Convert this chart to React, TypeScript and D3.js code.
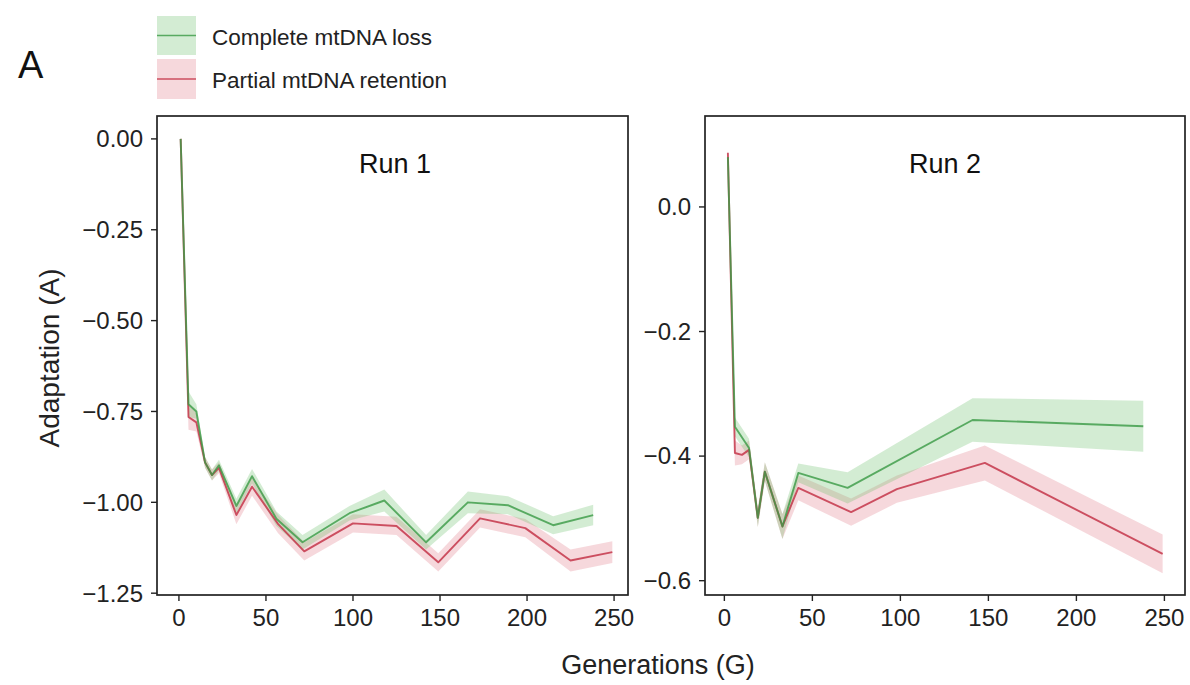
import React from "react";
import * as d3 from "d3";

// ---- Data ----
const xTicks = [0, 50, 100, 150, 200, 250];
const run1YTicks = [0, -0.25, -0.5, -0.75, -1.0, -1.25];
const run2YTicks = [0, -0.2, -0.4, -0.6];

// Run 1 — Complete mtDNA loss
const run1LossGen = [1, 5.5, 10, 15, 19, 23, 33, 42, 56, 71, 98, 118, 142, 166, 189, 215, 238];
const run1LossA = [0, -0.73, -0.75, -0.89, -0.925, -0.898, -1.01, -0.928, -1.045, -1.11, -1.03, -0.995, -1.11, -1.0, -1.008, -1.063, -1.035];
const run1LossSE = [0.005, 0.035, 0.02, 0.015, 0.015, 0.015, 0.02, 0.02, 0.02, 0.02, 0.02, 0.03, 0.02, 0.03, 0.025, 0.025, 0.028];

// Run 1 — Partial mtDNA retention
const run1RetGen = [1, 5.5, 10, 15, 19, 23, 33, 42, 57, 72, 100, 125, 149, 173, 199, 225, 249];
const run1RetA = [0, -0.765, -0.78, -0.89, -0.925, -0.905, -1.035, -0.957, -1.06, -1.135, -1.058, -1.065, -1.165, -1.044, -1.071, -1.16, -1.137];
const run1RetSE = [0.005, 0.035, 0.025, 0.015, 0.015, 0.015, 0.025, 0.025, 0.025, 0.025, 0.025, 0.025, 0.025, 0.025, 0.025, 0.03, 0.03];

// Run 2 — Complete mtDNA loss
const run2LossGen = [2, 6, 14, 19, 23, 33, 42, 70, 141, 238];
const run2LossA = [0.08, -0.353, -0.387, -0.499, -0.425, -0.513, -0.427, -0.451, -0.342, -0.352];
const run2LossSE = [0.005, 0.015, 0.015, 0.015, 0.015, 0.02, 0.015, 0.025, 0.035, 0.041];

// Run 2 — Partial mtDNA retention
const run2RetGen = [2, 6, 10, 14, 19, 23, 33, 42, 72, 98, 148, 249];
const run2RetA = [0.087, -0.395, -0.398, -0.39, -0.499, -0.425, -0.513, -0.451, -0.49, -0.453, -0.411, -0.557];
const run2RetSE = [0.005, 0.02, 0.015, 0.015, 0.015, 0.015, 0.02, 0.02, 0.022, 0.022, 0.028, 0.031];

const seriesNames = ["Complete mtDNA loss", "Partial mtDNA retention"];
const panelTitles = ["Run 1", "Run 2"];

// ---- Styles ----
const GREEN_LINE = "#3a9a45";
const GREEN_FILL = "#6cc06c";
const RED_LINE = "#c4364a";
const RED_FILL = "#e27d8c";
const FONT = "'Liberation Sans', Arial, Helvetica, sans-serif";

type Pt = { x: number; y: number; se: number };
const zip = (g: number[], a: number[], s: number[]): Pt[] => g.map((x, i) => ({ x, y: a[i], se: s[i] }));

interface PanelProps {
  left: number; right: number; top: number; bottom: number;
  xDomain: [number, number]; yDomain: [number, number];
  yTicks: number[]; yFmt: (n: number) => string;
  loss: Pt[]; ret: Pt[]; title: string; titleX: number;
}

function Panel(p: PanelProps) {
  const x = d3.scaleLinear().domain(p.xDomain).range([p.left, p.right]);
  const y = d3.scaleLinear().domain(p.yDomain).range([p.bottom, p.top]);
  const area = d3.area<Pt>().x(d => x(d.x)).y0(d => y(d.y - d.se)).y1(d => y(d.y + d.se));
  const line = d3.line<Pt>().x(d => x(d.x)).y(d => y(d.y));
  return (
    <g>
      <path d={area(p.ret) || ""} fill={RED_FILL} fillOpacity={0.3} />
      <path d={area(p.loss) || ""} fill={GREEN_FILL} fillOpacity={0.3} />
      <path d={line(p.ret) || ""} fill="none" stroke={RED_LINE} strokeWidth={1.9} strokeOpacity={0.85} strokeLinejoin="round" />
      <path d={line(p.loss) || ""} fill="none" stroke={GREEN_LINE} strokeWidth={1.9} strokeOpacity={0.8} strokeLinejoin="round" />
      <rect x={p.left} y={p.top} width={p.right - p.left} height={p.bottom - p.top} fill="none" stroke="#222" strokeWidth={1.7} />
      <text x={p.titleX} y={p.top + 57} textAnchor="middle" fontSize={27} fontFamily={FONT} fill="#111">{p.title}</text>
      {xTicks.map(t => (
        <g key={"x" + t}>
          <line x1={x(t)} x2={x(t)} y1={p.bottom} y2={p.bottom + 6} stroke="#222" strokeWidth={1.4} />
          <text x={x(t)} y={p.bottom + 31} textAnchor="middle" fontSize={24} fontFamily={FONT} fill="#222">{t}</text>
        </g>
      ))}
      {p.yTicks.map(t => (
        <g key={"y" + t}>
          <line x1={p.left - 6} x2={p.left} y1={y(t)} y2={y(t)} stroke="#222" strokeWidth={1.4} />
          <text x={p.left - 14} y={y(t)} dy="0.35em" textAnchor="end" fontSize={24} fontFamily={FONT} fill="#222">{p.yFmt(t)}</text>
        </g>
      ))}
    </g>
  );
}

export default function App() {
  const f2 = d3.format(".2f");
  const f1 = d3.format(".1f");
  return (
    <svg width={1190} height={685} style={{ position: "absolute", left: 0, top: 0, background: "#fff" }}>
      <rect width={1190} height={685} fill="#fff" />
      <text x={18} y={78} fontSize={38} fontFamily={FONT} fill="#111">A</text>
      {/* Legend */}
      <rect x={157} y={16} width={39} height={39} fill={GREEN_FILL} fillOpacity={0.3} />
      <line x1={157} x2={196} y1={35.5} y2={35.5} stroke={GREEN_LINE} strokeWidth={1.6} strokeOpacity={0.8} />
      <text x={212} y={37} dy="0.35em" fontSize={22.5} fontFamily={FONT} fill="#222">{seriesNames[0]}</text>
      <rect x={157} y={59} width={39} height={40} fill={RED_FILL} fillOpacity={0.3} />
      <line x1={157} x2={196} y1={79} y2={79} stroke={RED_LINE} strokeWidth={1.6} strokeOpacity={0.85} />
      <text x={212} y={80} dy="0.35em" fontSize={22.5} fontFamily={FONT} fill="#222">{seriesNames[1]}</text>

      <Panel left={157} right={628} top={116} bottom={595}
        xDomain={[-12.6, 258]} yDomain={[-1.255, 0.063]}
        yTicks={run1YTicks} yFmt={f2}
        loss={zip(run1LossGen, run1LossA, run1LossSE)} ret={zip(run1RetGen, run1RetA, run1RetSE)}
        title={panelTitles[0]} titleX={395} />
      <Panel left={705} right={1185} top={116} bottom={595}
        xDomain={[-11, 261.7]} yDomain={[-0.623, 0.146]}
        yTicks={run2YTicks} yFmt={f1}
        loss={zip(run2LossGen, run2LossA, run2LossSE)} ret={zip(run2RetGen, run2RetA, run2RetSE)}
        title={panelTitles[1]} titleX={945} />

      <text x={658} y={674} textAnchor="middle" fontSize={27} fontFamily={FONT} fill="#222">Generations (G)</text>
      <text transform="translate(59,358) rotate(-90)" textAnchor="middle" fontSize={28} fontFamily={FONT} fill="#222">Adaptation (A)</text>
    </svg>
  );
}
